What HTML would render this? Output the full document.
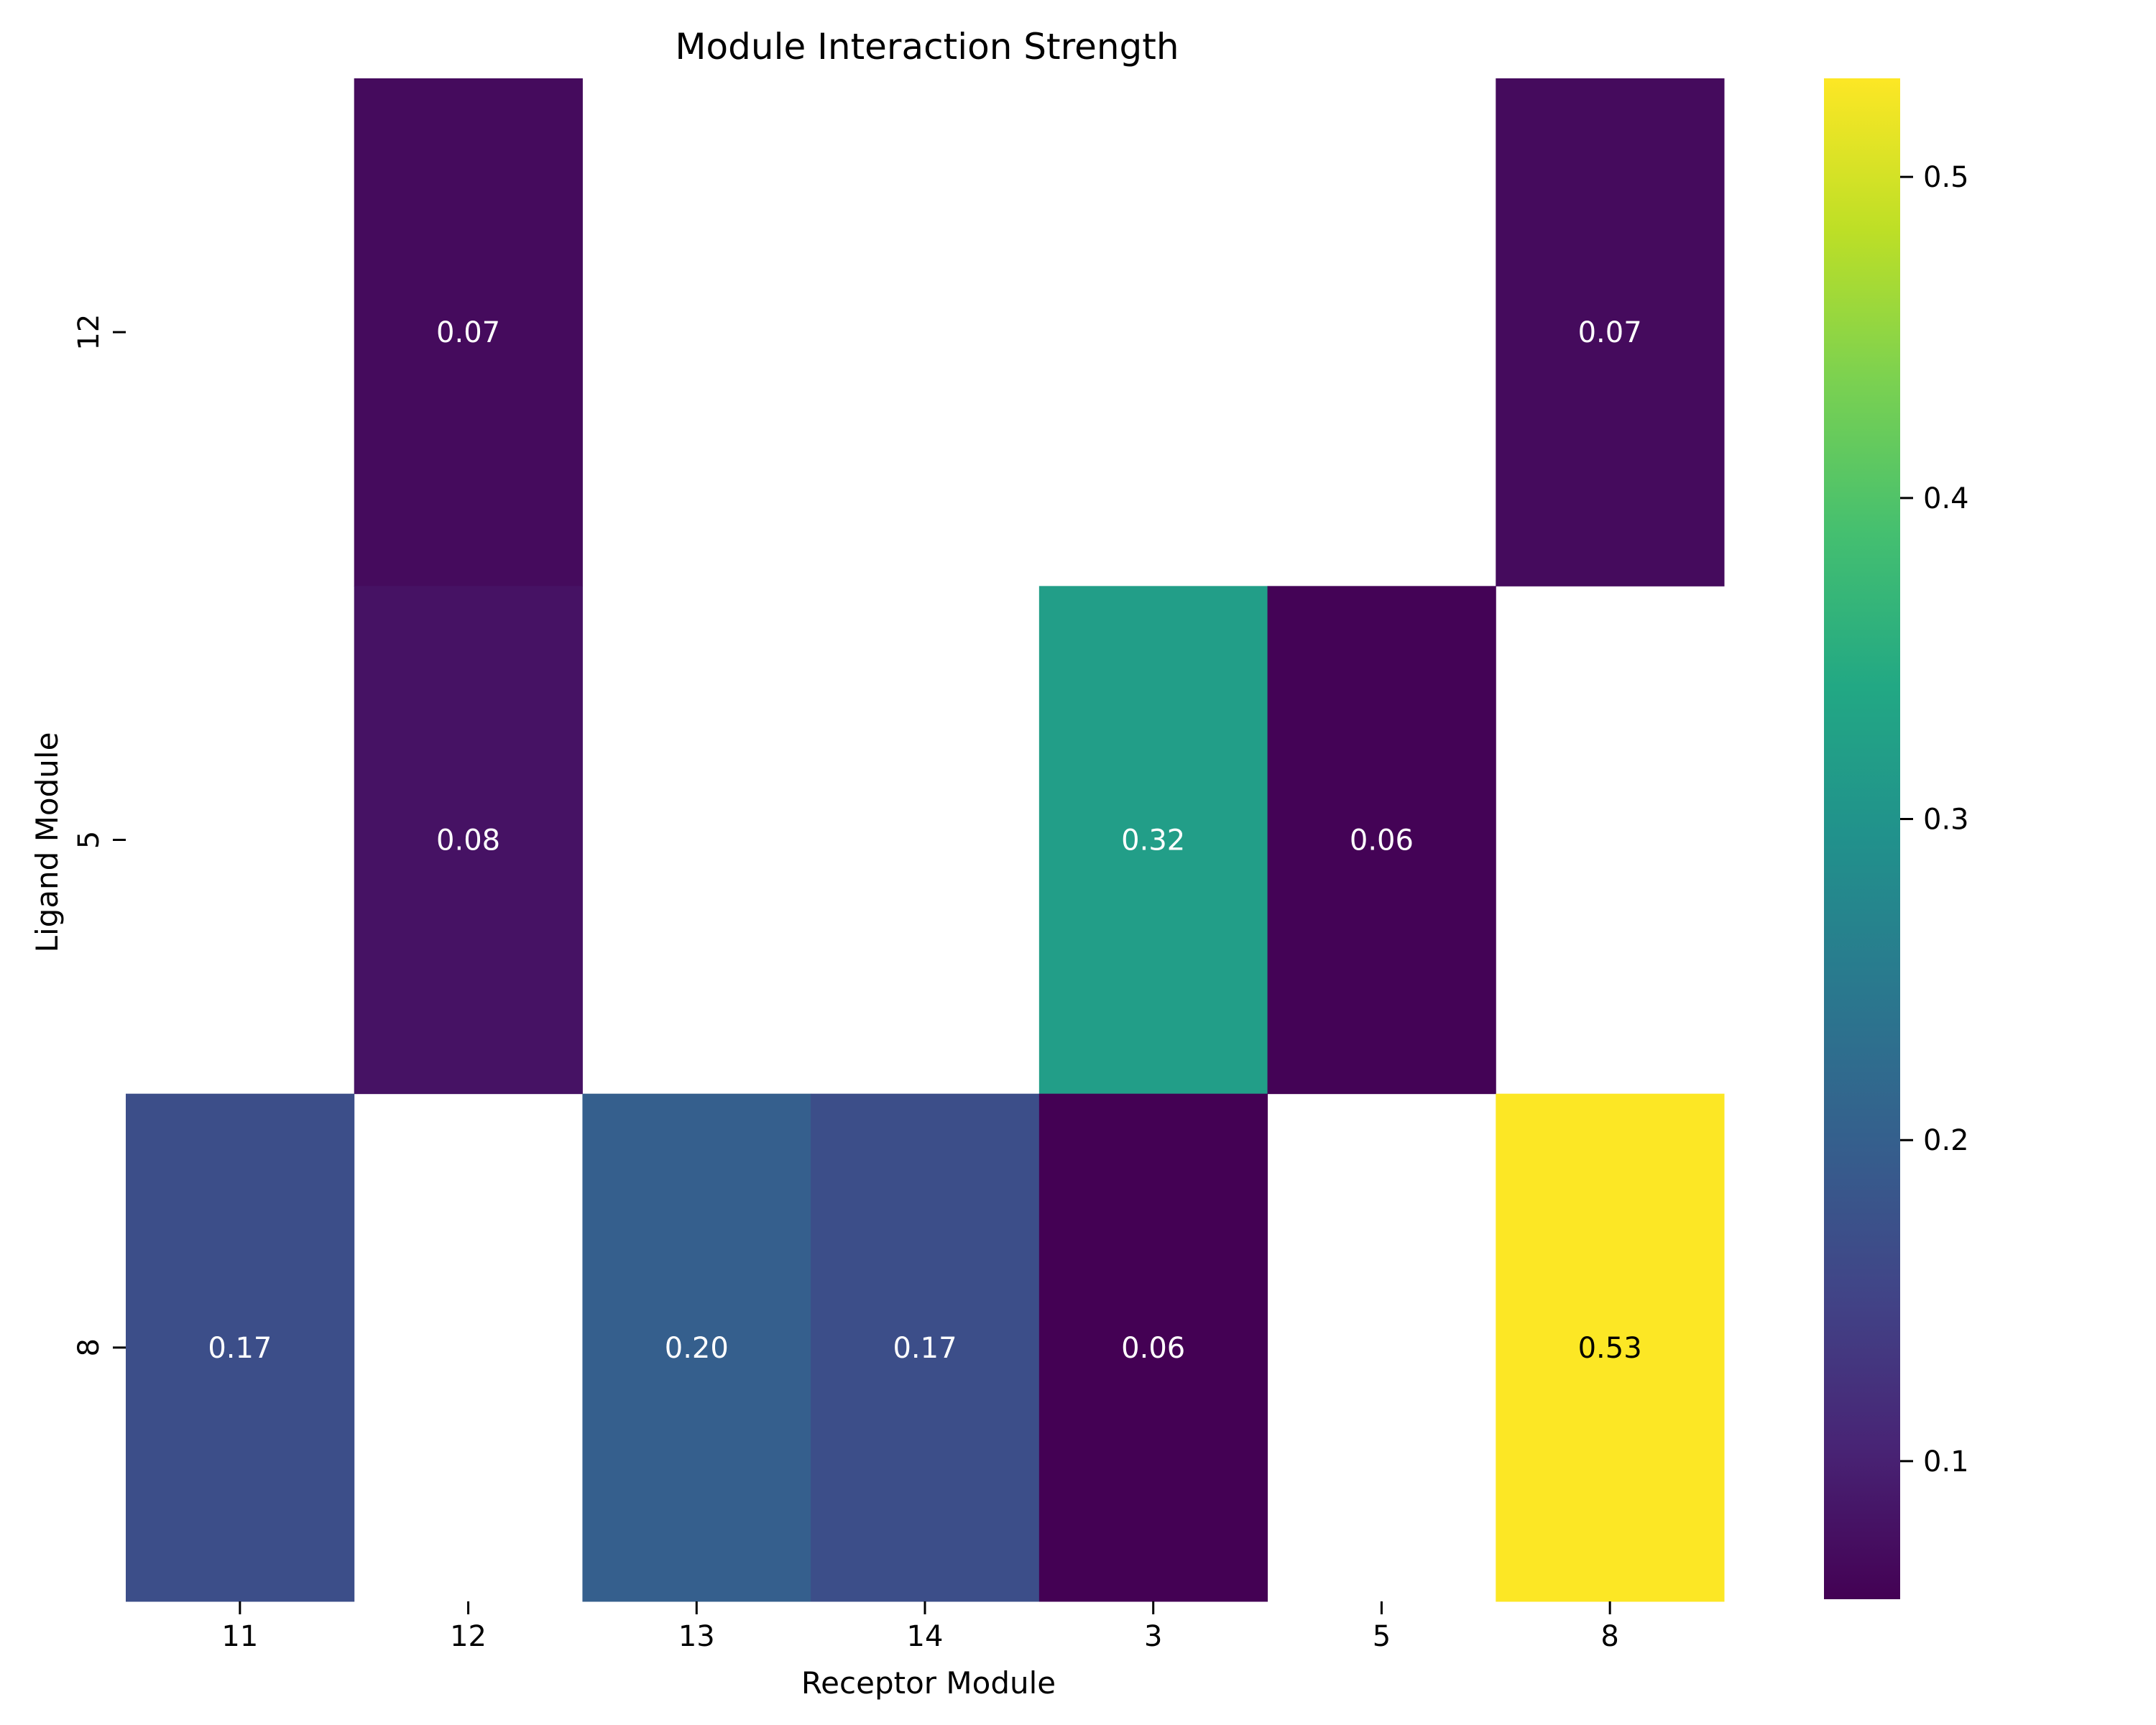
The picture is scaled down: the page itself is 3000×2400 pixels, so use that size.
<!DOCTYPE html>
<html><head><meta charset="utf-8"><style>
html,body{margin:0;padding:0;background:#fff;}
svg{display:block;font-family:"DejaVu Sans","Liberation Sans",sans-serif;}
</style></head><body>
<svg id="chart" width="3000" height="2400" viewBox="0 0 3000 2400">
<defs><linearGradient id="vir" x1="0" y1="1" x2="0" y2="0"></linearGradient></defs>
<text x="1290" y="82" font-size="50" text-anchor="middle">Module Interaction Strength</text>
<text x="1292" y="2356" font-size="42" text-anchor="middle">Receptor Module</text>
<text x="0" y="0" font-size="42" text-anchor="middle" transform="translate(80,1172) rotate(-90)">Ligand Module</text>
<g id="cells"></g>
<g id="xt"></g>
<g id="yt"></g>
<rect x="2538" y="109" width="106" height="2116" fill="url(#vir)"/>
<g id="cb"></g>
</svg>
<script>
const cols = ["11","12","13","14","3","5","8"];
const rows = ["12","5","8"];
const values = [
  [null, 0.07, null, null, null, null, 0.07],
  [null, 0.08, null, null, 0.32, 0.06, null],
  [0.17, null, 0.20, 0.17, 0.057, null, 0.53]
];
const cbTicks = [0.1, 0.2, 0.3, 0.4, 0.5];
const vmin = 0.057, vmax = 0.5307;

const X0=175, X1=2399, Y0=109, Y1=2228;
const cw=(X1-X0)/cols.length, rh=(Y1-Y0)/rows.length;
const xPos=i=>X0+i*cw, yPos=j=>Y0+j*rh;
const cbY=v=>2225-(v-vmin)/(vmax-vmin)*(2225-109);
const vir=["#440154","#482475","#414487","#355f8d","#2a788e","#21918c","#22a884","#44bf70","#7ad151","#bddf26","#fde725"];
function hex(h){return [1,3,5].map(k=>parseInt(h.substr(k,2),16));}
function cmap(t){t=Math.max(0,Math.min(1,t));const p=t*10,i=Math.min(9,Math.floor(p)),f=p-i;const a=hex(vir[i]),b=hex(vir[i+1]);return "rgb("+a.map((c,k)=>Math.round(c+(b[k]-c)*f)).join(",")+")";}
const NS="http://www.w3.org/2000/svg";
function mk(tag,attrs,parent,txt){const e=document.createElementNS(NS,tag);for(const k in attrs)e.setAttribute(k,attrs[k]);if(txt!==undefined)e.textContent=txt;parent.appendChild(e);return e;}
const g=document.getElementById('vir');
vir.forEach((c,i)=>mk('stop',{offset:(i*10)+'%','stop-color':c},g));
const cells=document.getElementById('cells');
values.forEach((row,j)=>row.forEach((v,i)=>{
  if(v===null)return;
  const t=(v-vmin)/(vmax-vmin);
  const r=mk('rect',{x:xPos(i),y:yPos(j),width:cw+0.5,height:rh+0.5,fill:cmap(t)},cells);
  
  
  const tx=mk('text',{x:xPos(i)+cw/2,y:yPos(j)+rh/2+14,'font-size':40,'text-anchor':'middle',fill:t>0.6?'#000':'#fff'},cells,v.toFixed(2));
  
  
}));
const xt=document.getElementById('xt');
cols.forEach((c,i)=>{
  const x=xPos(i)+cw/2;
  const l=mk('line',{x1:x,x2:x,y1:Y1,y2:Y1+18,stroke:'#000','stroke-width':3},xt);
  
  
  const t=mk('text',{x:x,y:Y1+62,'font-size':40,'text-anchor':'middle'},xt,c);
  
  
});
const yt=document.getElementById('yt');
rows.forEach((r,j)=>{
  const y=yPos(j)+rh/2;
  const l=mk('line',{x1:X0-18,x2:X0,y1:y,y2:y,stroke:'#000','stroke-width':3},yt);
  
  
  const t=mk('text',{'font-size':40,'text-anchor':'middle',transform:'translate(137,'+y+') rotate(-90)'},yt,r);
  
  
});
const cb=document.getElementById('cb');
cbTicks.forEach(v=>{
  const y=cbY(v);
  const l=mk('line',{x1:2644,x2:2662,y1:y,y2:y,stroke:'#000','stroke-width':3},cb);
  
  
  const t=mk('text',{x:2676,y:y+14,'font-size':40},cb,v.toFixed(1));
  
  
});
</script>
</body></html>
